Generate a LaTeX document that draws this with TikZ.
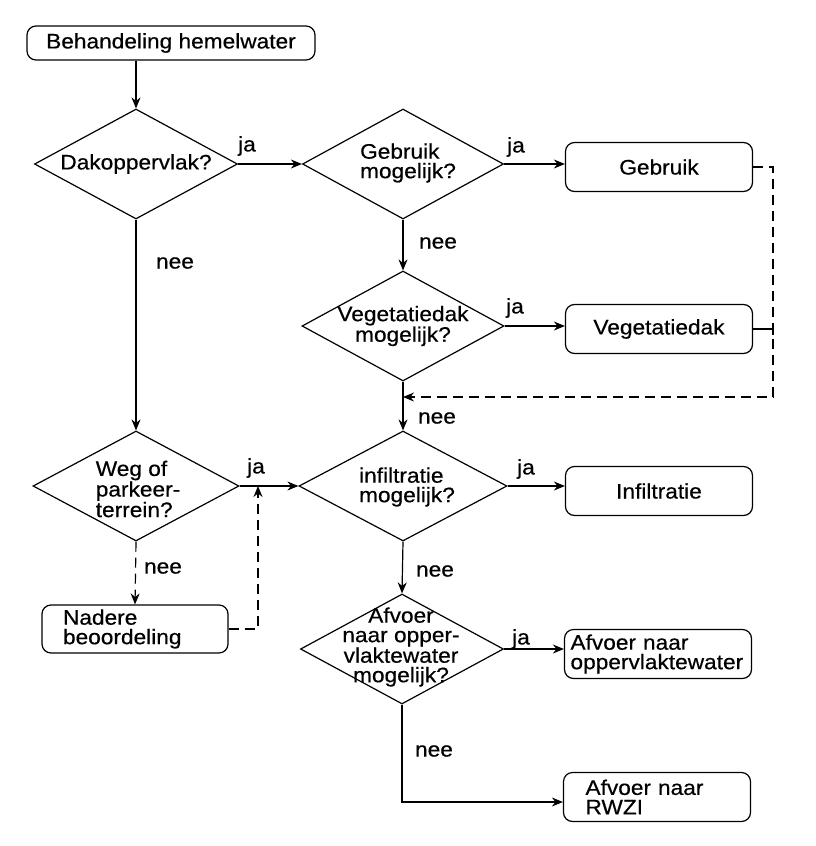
\documentclass[tikz,border=0pt]{standalone}
\usepackage{fontspec}
\setmainfont[FakeStretch=1.08,FakeBold=0.5]{Liberation Sans}
\usetikzlibrary{shapes.geometric,arrows.meta}
\tikzset{
  every node/.style={font=\fontsize{21}{19.5}\selectfont},
  box/.style={draw, line width=1.2pt, rounded corners=9pt, minimum width=187pt, minimum height=49pt, inner sep=0pt, align=center},
  dia/.style={draw, line width=1.2pt, diamond, inner sep=0pt},
  lbl/.style={inner sep=0pt, align=center},
  arr/.style={line width=1.2pt, -{Stealth[length=11pt,width=9pt]}},
  dsh/.style={dash pattern=on 10pt off 6pt},
}
\begin{document}
\begin{tikzpicture}[x=1pt,y=-1pt]
\path[use as bounding box] (0,0) rectangle (816,846);

% process boxes
\node[box, minimum width=288pt, minimum height=34pt] (start) at (171,43) {Behandeling hemelwater};
\node[box] (bgeb) at (659,167) {Gebruik};
\node[box] (bveg) at (659,329) {Vegetatiedak};
\node[box] (binf) at (659,491) {Infiltratie};
\node[box, align=left, text width=175pt, inner xsep=6pt] (bafv) at (658,654) {Afvoer naar\\oppervlaktewater};
\node[box, align=left, text width=143pt, inner xsep=22pt] (brwzi) at (657,797) {Afvoer naar\\RWZI};
\node[box, minimum width=186pt, minimum height=48pt, align=left, text width=144pt, inner xsep=21pt] (bnad) at (135,629) {Nadere\\beoordeling};

% decisions
\node[dia, minimum width=203pt, minimum height=110pt] (d1) at (136,164) {};
\node[lbl] (d1t) at (d1) {Dakoppervlak?};
\node[dia, minimum width=201pt, minimum height=110pt] (d2) at (403,164) {};
\node[lbl, align=left] (d2t) at (408,163) {Gebruik\\mogelijk?};
\node[dia, minimum width=202pt, minimum height=110pt] (d3) at (403,326) {};
\node[lbl] (d3t) at (d3) {Vegetatiedak\\mogelijk?};
\node[dia, minimum width=208pt, minimum height=110pt] (d4) at (403,486) {};
\node[lbl, align=left] (d4t) at (407,487) {infiltratie\\mogelijk?};
\node[dia, minimum width=203pt, minimum height=110pt] (d5) at (402,649) {};
\node[lbl] (d5t) at (401,647) {Afvoer\\naar opper-\\vlaktewater\\mogelijk?};
\node[dia, minimum width=206pt, minimum height=110pt] (d6) at (136,486) {};
\node[lbl, align=left] (d6t) at (138,489) {Weg of\\parkeer-\\terrein?};

% connectors
\draw[arr] (start.south -| d1.north) -- (d1.north);
\draw[arr] (d1.east) -- (d2.west);
\draw[arr] (d2.east) -- (d2.east -| bgeb.west);
\draw[arr] (d2.south) -- (d3.north);
\draw[arr] (d3.east) -- (d3.east -| bveg.west);
\draw[arr] (d3.south) -- (d4.north);
\draw[arr] (d4.east) -- (d4.east -| binf.west);
\draw[arr] (d4.south) -- (d5.north);
\draw[arr] (d5.east) -- (d5.east -| bafv.west);
\draw[arr] (d5.south) |- ([yshift=-5pt]brwzi.west);
\draw[arr] (d1.south) -- (d6.north);
\draw[arr] (d6.east) -- (d4.west);
\draw[arr, dsh] (d6.south) -- (bnad.north);
\coordinate (nj) at (258,486);
\draw[arr, dsh] (bnad.east) -| (nj);
\coordinate (lc) at (773,397);
\draw[arr, dsh] (bgeb.east) -| (lc) -- (lc -| d3.south);
\draw[line width=1.2pt] (bveg.east) -- (bveg.east -| lc);
\draw[line width=1.2pt] ([yshift=6pt]bveg.east -| lc) -- ([yshift=-6pt]bveg.east -| lc);

% labels
\node[lbl] (ja1) at (247,146) {ja};
\node[lbl] (nee1) at (175,263) {nee};
\node[lbl] (ja2) at (516,147) {ja};
\node[lbl] (nee2) at (438,243) {nee};
\node[lbl] (ja3) at (515,308) {ja};
\node[lbl] (nee3) at (437,418) {nee};
\node[lbl] (ja4) at (526,469) {ja};
\node[lbl] (jaw) at (256,468) {ja};
\node[lbl] (neew) at (163,568) {nee};
\node[lbl] (nee4) at (435,571) {nee};
\node[lbl] (ja5) at (521,639) {ja};
\node[lbl] (nee5) at (434,751) {nee};
\end{tikzpicture}
\end{document}
